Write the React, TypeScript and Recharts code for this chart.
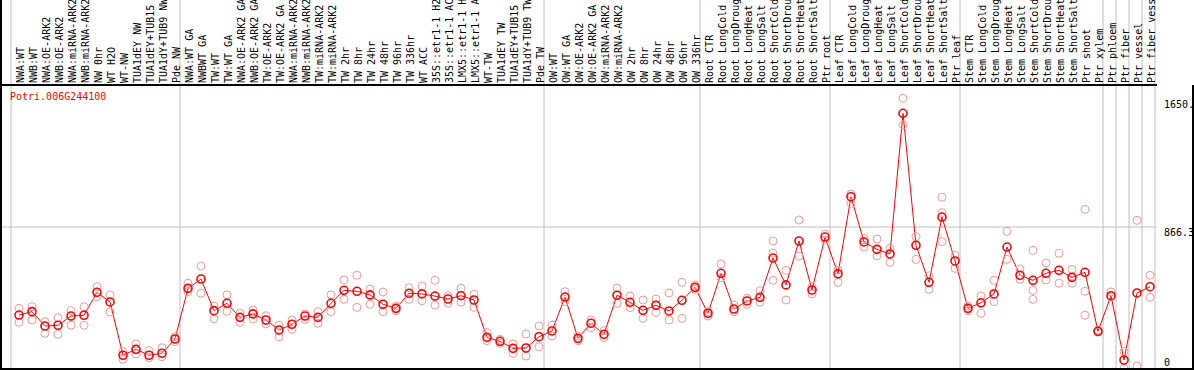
import { ComposedChart, Line, XAxis, YAxis, ReferenceLine } from "recharts";

const labels = [
    "NWA:WT", "NWB:WT", "NWA:OE-ARK2", "NWB:OE-ARK2", "NWA:miRNA-ARK2", "NWB:miRNA-ARK2", "NW 0hr", "WT H2O", "WT-NW", "TUA1dEY NW", "TUA1dEY+TUB15", "TUA1dY+TUB9 NW", "Pde NW",
    "NWA:WT GA", "NWBWT GA", "TW:WT", "TW:WT GA", "NWA:OE-ARK2 GA", "NWB:OE-ARK2 GA", "TW:OE-ARK2", "TW:OE-ARK2 GA", "NWA:miRNA-ARK2", "NWB:miRNA-ARK2", "TW:miRNA-ARK2", "TW:miRNA-ARK2",
    "TW 2hr", "TW 8hr", "TW 24hr", "TW 48hr", "TW 96hr", "TW 336hr", "WT ACC", "35S::etr1-1 H2", "35S::etr1-1 AC", "LMX5::etr1-1 H", "LMX5::etr1-1 A", "WT-TW", "TUA1dEY TW", "TUA1dEY+TUB15", "TUA1dY+TUB9 TW", "Pde TW",
    "OW:WT", "OW:WT GA", "OW:OE-ARK2", "OW:OE-ARK2 GA", "OW:miRNA-ARK2", "OW:miRNA-ARK2", "OW 2hr", "OW 8hr", "OW 24hr", "OW 48hr", "OW 96hr", "OW 336hr",
    "Root CTR", "Root LongCold", "Root LongDroug", "Root LongHeat", "Root LongSalt", "Root ShortCold", "Root ShortDrou", "Root ShortHeat", "Root ShortSalt", "Ptr root",
    "Leaf CTR", "Leaf LongCold", "Leaf LongDroug", "Leaf LongHeat", "Leaf LongSalt", "Leaf ShortCold", "Leaf ShortDrou", "Leaf ShortHeat", "Leaf ShortSalt", "Ptr leaf",
    "Stem CTR", "Stem LongCold", "Stem LongDroug", "Stem LongHeat", "Stem LongSalt", "Stem ShortCold", "Stem ShortDrou", "Stem ShortHeat", "Stem ShortSalt", "Ptr shoot", "Ptr xylem",
    "Ptr phloem", "Ptr fiber", "Ptr vessel", "Ptr fiber vess",
];

// mean expression per sample
const means = [
    329, 350, 262, 267, 323, 328, 468, 409, 84, 120, 84, 96, 183,
    492, 549, 356, 401, 315, 336, 299, 238, 273, 323, 315, 401, 480, 474, 452, 395, 370, 462, 458, 445, 427, 447, 421, 193, 169, 126, 128, 197,
    232, 439, 187, 279, 212, 450, 407, 358, 389, 354, 419, 498,
    340, 584, 366, 415, 437, 677, 513, 781, 482, 805,
    581, 1051, 775, 730, 702, 1560, 755, 529, 927, 659,
    370, 404, 458, 744, 572, 541, 584, 602, 559, 590, 230,
    447, 55, 464, 502,
];

// replicate values (upper / lower)
const repHigh = [
    370, 380, 289, 313, 356, 380, 502, 452, 106, 153, 112, 130, 197,
    523, 628, 384, 452, 340, 360, 325, 267, 299, 336, 350, 452, 543, 572, 488, 470, 384, 496, 506, 541, 447, 492, 456, 222, 181, 153, 214, 262,
    267, 472, 201, 299, 234, 494, 445, 421, 427, 464, 529, 513,
    350, 641, 390, 431, 478, 781, 602, 909, 502, 824,
    604, 1068, 797, 793, 736, 1652, 807, 569, 1048, 694,
    384, 445, 541, 840, 610, 724, 647, 706, 608, 974, 238,
    470, 106, 907, 572,
];

const repLow = [
    285, 299, 218, 212, 267, 267, 441, 348, 59, 92, 69, 75, 167,
    472, 462, 307, 352, 285, 305, 275, 197, 242, 303, 279, 350, 425, 376, 395, 350, 355, 425, 417, 390, 401, 407, 376, 173, 157, 96, 79, 136,
    201, 411, 173, 252, 191, 401, 374, 309, 344, 299, 309, 486,
    323, 557, 350, 395, 407, 706, 421, 689, 458, 787,
    529, 1011, 743, 691, 651, 1489, 669, 486, 954, 614,
    356, 340, 411, 669, 547, 480, 543, 523, 523, 474, 225,
    440, 4, 18, 437,
];

// third replicate where it shows apart from the others: [sample index, value]
const extraReps: [number, number][] = [[58, 541], [71, 777], [78, 425], [82, 328]];

// first sample index of each group (vertical separators)
const groupStarts = [0, 13, 41, 53, 63, 73, 84, 85, 86, 87, 88];

const yTicks = [0, 866.3, 1650];
const yTickLabels = ["0", "866.3", "1650."];

const FONT = "'DejaVu Sans Mono', monospace";

const extraMap = new Map(extraReps);
const rows = labels.map((name, i) => ({
    x: i,
    name,
    mean: means[i],
    hi: repHigh[i],
    lo: repLow[i],
    ex: extraMap.has(i) ? extraMap.get(i) : null,
}));

const XTick = (props: any) => {
    const { x, payload } = props;
    return (
        <text transform={`translate(${x + 4.5},83) rotate(-90)`} fontSize={10} fontFamily={FONT} fill="#000">
            {labels[payload.value]}
        </text>
    );
};

const YTick = (props: any) => {
    const { x, y, payload, index } = props;
    return (
        <text x={x} y={payload.value === 0 ? y - 3 : y + 9} fontSize={10} fontFamily={FONT} fill="#000" textAnchor="start">
            {yTickLabels[index]}
        </text>
    );
};

const repDot = { r: 4, stroke: "#ef9a9a", strokeWidth: 1, fill: "none" };

export default function App() {
    return (
        <div style={{ position: "relative", width: 1194, height: 370, background: "#fff" }}>
            <style>{"body{margin:0}"}</style>
            <ComposedChart width={1194} height={370} data={rows} margin={{ top: 0, right: 0, left: 1, bottom: 1 }}>
                <XAxis
                    dataKey="x"
                    type="number"
                    orientation="top"
                    height={85}
                    domain={[-18 / 13, 1137 / 13]}
                    allowDataOverflow
                    ticks={rows.map((r) => r.x)}
                    interval={0}
                    tick={<XTick />}
                    tickLine={false}
                    axisLine={false}
                />
                <YAxis
                    orientation="right"
                    width={38}
                    domain={[0, 1732.6]}
                    allowDataOverflow
                    ticks={yTicks}
                    interval={0}
                    tick={<YTick />}
                    tickLine={false}
                    axisLine={false}
                />

                {groupStarts.map((s) => (
                    <ReferenceLine
                        key={s}
                        segment={[{ x: s - 8 / 13, y: 0 }, { x: s - 8 / 13, y: 2300 }]}
                        stroke="#c0c0c0"
                        ifOverflow="visible"
                    />
                ))}
                <ReferenceLine y={866.3} stroke="#c0c0c0" />

                <Line dataKey="hi" stroke="none" dot={repDot} activeDot={false} isAnimationActive={false} />
                <Line dataKey="lo" stroke="none" dot={repDot} activeDot={false} isAnimationActive={false} />
                <Line dataKey="ex" stroke="none" dot={repDot} activeDot={false} isAnimationActive={false} />
                <Line
                    dataKey="mean"
                    stroke="#ff0000"
                    strokeWidth={1}
                    dot={{ r: 4, stroke: "#ff0000", strokeWidth: 1.6, fill: "none" }}
                    activeDot={false}
                    isAnimationActive={false}
                />
            </ComposedChart>

            {/* frame */}
            <div style={{ position: "absolute", left: 0, top: 0, width: 2, height: 370, background: "#000" }} />
            <div style={{ position: "absolute", left: 0, top: 84, width: 1157, height: 2, background: "#000" }} />
            <div style={{ position: "absolute", left: 0, top: 368, width: 1194, height: 2, background: "#000" }} />
            <div style={{ position: "absolute", left: 1192, top: 85, width: 2, height: 285, background: "#000" }} />

            <div style={{ position: "absolute", left: 10, top: 92, font: `10px ${FONT}`, lineHeight: "10px", color: "#ff0000", whiteSpace: "nowrap" }}>
                Potri.006G244100
            </div>
        </div>
    );
}
